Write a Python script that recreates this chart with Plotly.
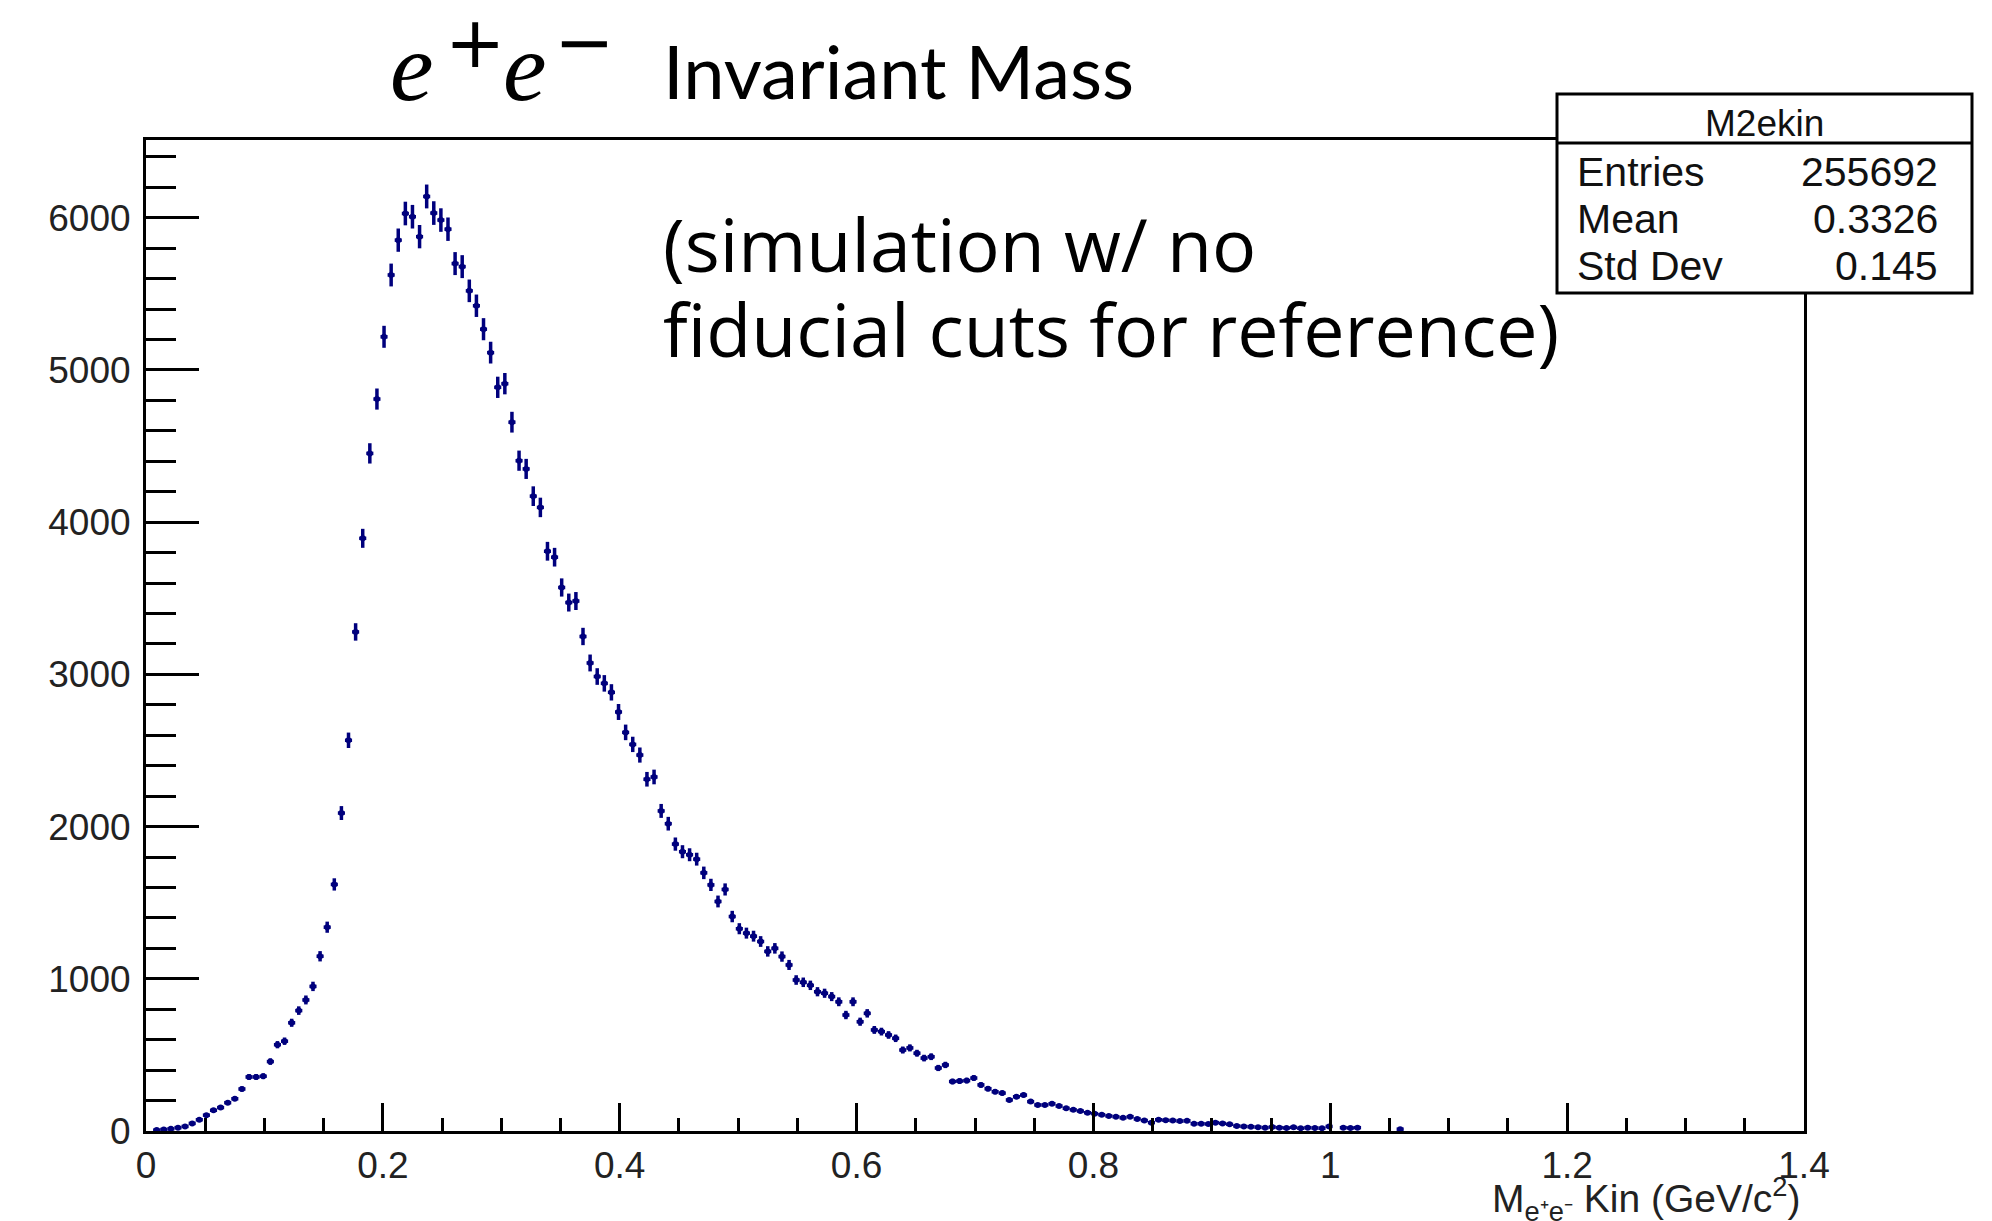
import numpy as np
import plotly.graph_objects as go

# ---------------- data ----------------
bin_lo = 0.0
bin_width = 0.006
counts = [
    0, 6, 10, 14, 22, 30, 50, 74, 104, 136,
    154, 186, 212, 276, 355, 355, 360, 456, 567, 590,
    711, 791, 861, 950, 1148, 1339, 1620, 2089, 2567, 3279,
    3894, 4452, 4809, 5218, 5624, 5853, 6028, 6007, 5876, 6140,
    6031, 5985, 5925, 5699, 5679, 5520, 5422, 5268, 5114, 4886,
    4910, 4657, 4404, 4350, 4171, 4097, 3809, 3770, 3571, 3472,
    3482, 3249, 3075, 2986, 2941, 2882, 2753, 2619, 2540, 2470,
    2311, 2326, 2103, 2019, 1885, 1835, 1815, 1786, 1696, 1617,
    1508, 1587, 1409, 1329, 1300, 1280, 1245, 1180, 1200, 1146,
    1091, 992, 977, 957, 915, 905, 883, 849, 762, 849,
    718, 773, 664, 653, 631, 609, 532, 546, 511, 479,
    488, 414, 434, 325, 328, 331, 348, 303, 278, 258,
    249, 204, 225, 236, 193, 171, 171, 179, 164, 149,
    139, 131, 120, 114, 107, 99, 94, 87, 94, 79,
    69, 55, 74, 71, 69, 65, 67, 48, 48, 46,
    55, 50, 44, 33, 30, 28, 25, 22, 26, 22,
    20, 24, 18, 22, 20, 18, 30, 0, 22, 20,
    22, 0, 0, 0, 0, 0, 12,
]
x_tick_vals = [0, 0.2, 0.4, 0.6, 0.8, 1.0, 1.2, 1.4]
x_tick_text = ["0", "0.2", "0.4", "0.6", "0.8", "1", "1.2", "1.4"]
y_tick_vals = [0, 1000, 2000, 3000, 4000, 5000, 6000]
y_tick_text = ["0", "1000", "2000", "3000", "4000", "5000", "6000"]
stats_name = "M2ekin"
stats_rows = [("Entries", "255692"), ("Mean", "0.3326"), ("Std Dev", "0.145")]

# ---------------- geometry helpers ----------------
W, H = 1992, 1221
L, R, T, B = 146, 1804, 140, 1131   # plot area in pixels


def px(xp):
    return (xp - L) / (R - L)


def py(yp):
    return (B - yp) / (B - T)


counts_arr = np.array(counts, dtype=float)
centers = bin_lo + bin_width * (np.arange(len(counts)) + 0.5)
mask = counts_arr > 0
xs = centers[mask]
ys = counts_arr[mask]
errs = np.sqrt(ys)

col = "#00007d"
fig = go.Figure()
fig.add_trace(go.Scatter(
    x=xs, y=ys, mode="markers",
    marker=dict(size=0, color=col),
    error_x=dict(type="constant", value=bin_width / 2, thickness=3.5, width=0, color=col),
    error_y=dict(type="data", array=errs, thickness=3.5, width=0, color=col),
    showlegend=False, hoverinfo="skip",
))

tickfont = dict(family="Liberation Sans, Arial, sans-serif", size=37, color="#222")
fig.update_xaxes(
    range=[0, 1.4], showline=True, linewidth=3, linecolor="black", mirror=True,
    ticks="inside", ticklen=28, tickwidth=3, tickcolor="black",
    tickvals=x_tick_vals, ticktext=x_tick_text, tickfont=tickfont,
    minor=dict(ticks="inside", dtick=0.05, ticklen=13, tickwidth=3, tickcolor="black", showgrid=False),
    showgrid=False, zeroline=False, ticklabelstandoff=0,
)
fig.update_yaxes(
    range=[0, 6511], showline=True, linewidth=3, linecolor="black", mirror=True,
    ticks="inside", ticklen=53, tickwidth=3, tickcolor="black",
    tickvals=y_tick_vals, ticktext=y_tick_text, tickfont=tickfont,
    minor=dict(ticks="inside", dtick=200, ticklen=30, tickwidth=3, tickcolor="black", showgrid=False),
    showgrid=False, zeroline=False, ticklabelstandoff=5,
)

shapes = [
    dict(type="rect", xref="paper", yref="paper", x0=px(1557), x1=px(1972), y0=py(293), y1=py(94),
         fillcolor="white", line=dict(color="black", width=3), layer="above"),
    dict(type="line", xref="paper", yref="paper", x0=px(1557), x1=px(1972), y0=py(143), y1=py(143),
         line=dict(color="black", width=3), layer="above"),
]

ann = []


def add_text(text, x, y, size, family, xanchor="left", yanchor="middle", color="black"):
    ann.append(dict(text=text, x=px(x), y=py(y), xref="paper", yref="paper", showarrow=False,
                    xanchor=xanchor, yanchor=yanchor, font=dict(size=size, family=family, color=color)))


serif = "Liberation Serif, Times New Roman, serif"
sans = "Liberation Sans, Arial, sans-serif"
# title e+e-
add_text("<i>e</i>", 388, 67, 98, serif)
add_text("+", 475, 42, 72, "DejaVu Sans, sans-serif", xanchor="center")
add_text("<i>e</i>", 501, 67, 98, serif)
add_text("\u2212", 584, 42, 72, "DejaVu Sans, sans-serif", xanchor="center")
add_text("Invariant Mass", 661, 71, 74, "Lato, sans-serif")
add_text("(simulation w/ no", 661, 243, 73.5, "Open Sans, sans-serif")
add_text("fiducial cuts for reference)", 661, 328, 73.5, "Open Sans, sans-serif")

# stats box
add_text(stats_name, 1764, 123, 37, sans, xanchor="center", color="#111")
row_y = [172, 219, 266]
for (k, v), yy in zip(stats_rows, row_y):
    add_text(k, 1575, yy, 41, sans, color="#111")
    add_text(v, 1940, yy, 41, sans, xanchor="right", color="#111")

# x-axis title
add_text("M<sub>e\u207Ae\u207B</sub> Kin (GeV/c<sup>2</sup>)", 1802, 1199, 39, sans,
         xanchor="right", color="#222")

fig.update_layout(
    width=W, height=H, margin=dict(l=L, r=W - R, t=T, b=H - B),
    paper_bgcolor="white", plot_bgcolor="white",
    shapes=shapes, annotations=ann, showlegend=False,
)
fig.write_html("out.html")
